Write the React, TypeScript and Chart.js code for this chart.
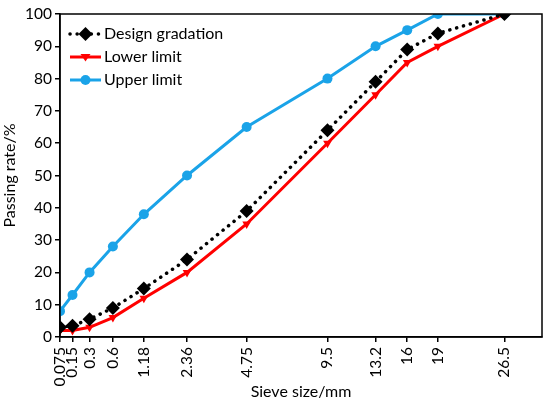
import { useEffect, useRef } from "react";
import Chart from "chart.js/auto";

const sieveSizes = [0.075, 0.15, 0.3, 0.6, 1.18, 2.36, 4.75, 9.5, 13.2, 16, 19, 26.5];
const sieveLabels = ["0.075", "0.15", "0.3", "0.6", "1.18", "2.36", "4.75", "9.5", "13.2", "16", "19", "26.5"];
const designGradation = [3, 3.5, 5.5, 9, 15, 24, 39, 64, 79, 89, 94, 100];
const lowerLimit = [2, 2, 3, 6, 12, 20, 35, 60, 75, 85, 90, 100];
const upperLimit = [8, 13, 20, 28, 38, 50, 65, 80, 90, 95, 100, 100];

// gradation charts use d^0.45 on the x axis
const pw = (d: number) => Math.pow(d, 0.45);
const FONT = "Lato, 'Open Sans', sans-serif";

const frameAndLegend = {
  id: "frameAndLegend",
  afterDraw(chart: any) {
    const { ctx, chartArea } = chart;
    ctx.save();
    ctx.strokeStyle = "#000";
    ctx.lineWidth = 1.5;
    ctx.strokeRect(chartArea.left, chartArea.top, chartArea.right - chartArea.left, chartArea.bottom - chartArea.top);

    // legend with line + marker, inside the plot
    const x0 = chartArea.left + 10;
    chart.data.datasets.forEach((ds: any, i: number) => {
      const y = chartArea.top + 20 + i * 23;
      ctx.beginPath();
      ctx.setLineDash(ds.borderDash || []);
      ctx.lineCap = ds.borderCapStyle || "butt";
      ctx.strokeStyle = ds.borderColor;
      ctx.lineWidth = ds.borderWidth;
      ctx.moveTo(x0, y);
      ctx.lineTo(x0 + 31, y);
      ctx.stroke();
      ctx.setLineDash([]);
      ctx.fillStyle = ds.pointBackgroundColor;
      const r = ds.pointRadius;
      ctx.beginPath();
      const cx = x0 + 15.5;
      if (ds.pointStyle === "rectRot") {
        ctx.moveTo(cx, y - r); ctx.lineTo(cx + r, y); ctx.lineTo(cx, y + r); ctx.lineTo(cx - r, y);
      } else if (ds.pointStyle === "triangle") {
        ctx.moveTo(cx - r, y - r * 0.6); ctx.lineTo(cx + r, y - r * 0.6); ctx.lineTo(cx, y + r * 0.9);
      } else {
        ctx.arc(cx, y, r, 0, Math.PI * 2);
      }
      ctx.closePath();
      ctx.fill();
      ctx.fillStyle = "#000";
      ctx.font = `16px ${FONT}`;
      ctx.textBaseline = "middle";
      ctx.textAlign = "left";
      ctx.fillText(ds.label, x0 + 34, y);
    });
    ctx.restore();
  },
};

export default function App() {
  const canvasRef = useRef<HTMLCanvasElement | null>(null);
  const chartRef = useRef<Chart | null>(null);

  useEffect(() => {
    document.body.style.margin = "0";
    if (chartRef.current) chartRef.current.destroy();
    const ctx = canvasRef.current!.getContext("2d")!;

    const toPts = (vals: number[]) => vals.map((v, i) => ({ x: pw(sieveSizes[i]), y: v }));

    chartRef.current = new Chart(ctx, {
      type: "line",
      data: {
        datasets: [
          {
            label: "Design gradation",
            data: toPts(designGradation),
            borderColor: "#000",
            borderWidth: 3.5,
            borderDash: [0.1, 7],
            borderCapStyle: "round",
            pointStyle: "rectRot",
            pointRadius: 7,
            pointBackgroundColor: "#000",
            pointBorderWidth: 0,
            order: 1,
          },
          {
            label: "Lower limit",
            data: toPts(lowerLimit),
            borderColor: "#ff0000",
            borderWidth: 3,
            pointStyle: "triangle",
            rotation: 180,
            pointRadius: 5,
            pointBackgroundColor: "#ff0000",
            pointBorderWidth: 0,
            order: 2,
          },
          {
            label: "Upper limit",
            data: toPts(upperLimit),
            borderColor: "#1aa3e8",
            borderWidth: 3,
            pointStyle: "circle",
            pointRadius: 5,
            pointBackgroundColor: "#1aa3e8",
            pointBorderWidth: 0,
            order: 3,
          },
        ] as any,
      },
      options: {
        animation: false,
        responsive: false,
        layout: { padding: { top: 14, right: 8, left: 0, bottom: 0 } },
        plugins: { legend: { display: false }, tooltip: { enabled: false } },
        scales: {
          x: {
            type: "linear",
            min: pw(0.075),
            max: 4.713,
            afterBuildTicks: (scale: any) => {
              scale.ticks = sieveSizes.map((s) => ({ value: pw(s) }));
            },
            afterFit: (scale: any) => {
              scale.height = 70;
            },
            ticks: {
              autoSkip: false,
              minRotation: 90,
              maxRotation: 90,
              padding: 5,
              color: "#000",
              font: { size: 15.5, family: FONT },
              callback: (_v: any, i: number) => sieveLabels[i],
            },
            grid: { drawOnChartArea: false, drawTicks: true, tickLength: 5, color: "#000", lineWidth: 1.5 },
            border: { color: "#000", width: 1.5 },
            title: {
              display: true,
              text: "Sieve size/mm",
              color: "#000",
              font: { size: 16, family: FONT },
              padding: { top: 0, bottom: 6 },
            },
          },
          y: {
            min: 0,
            max: 100,
            afterFit: (scale: any) => {
              scale.width = 60;
            },
            ticks: {
              stepSize: 10,
              padding: 3,
              color: "#000",
              font: { size: 15.5, family: FONT },
            },
            grid: { drawOnChartArea: false, drawTicks: true, tickLength: 5, color: "#000", lineWidth: 1.5 },
            border: { color: "#000", width: 1.5 },
            title: {
              display: true,
              text: "Passing rate/%",
              color: "#000",
              font: { size: 16, family: FONT },
              padding: { top: 0, bottom: 1 },
            },
          },
        },
      },
      plugins: [frameAndLegend],
    });

    return () => {
      if (chartRef.current) chartRef.current.destroy();
    };
  }, []);

  return (
    <div style={{ width: 550, height: 407 }}>
      <canvas ref={canvasRef} width={550} height={407} style={{ width: 550, height: 407 }} />
    </div>
  );
}
